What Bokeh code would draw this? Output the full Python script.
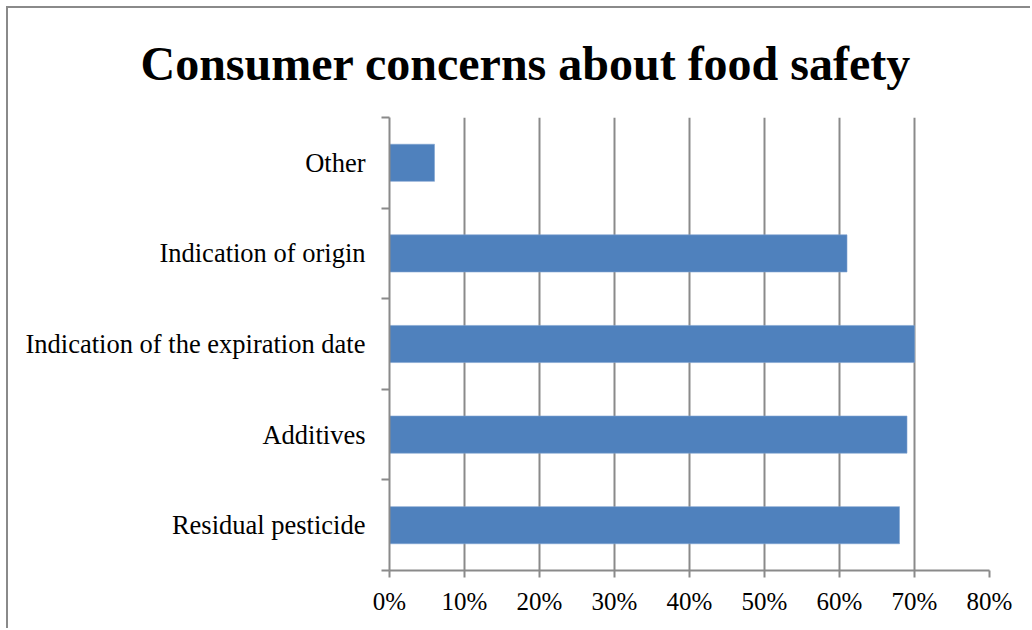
import numpy as np
from bokeh.plotting import figure
from bokeh.models import FixedTicker, NumeralTickFormatter, Range1d
from bokeh.embed import file_html
from bokeh.resources import INLINE

title_text = "Consumer concerns about food safety"
categories = ["Residual pesticide", "Additives", "Indication of the expiration date",
              "Indication of origin", "Other"]
values = [0.68, 0.69, 0.70, 0.61, 0.06]
x_ticks = [0.0, 0.1, 0.2, 0.3, 0.4, 0.5, 0.6, 0.7, 0.8]

n = len(categories)
centers = list(np.arange(n) + 0.5)
bounds = list(np.arange(n + 1).astype(float))

GRAY = "#8a8a8a"
FONT = "Liberation Serif"

p = figure(width=1024, height=622, output_backend="svg", toolbar_location=None,
           x_range=Range1d(0, 0.8), y_range=Range1d(0, n),
           min_border_left=381, min_border_right=43, min_border_top=109, min_border_bottom=60)
p.margin = (6, 0, 0, 6)
p.styles = {"border-left": "2px solid " + GRAY, "border-top": "2px solid " + GRAY}
p.outline_line_color = None
p.background_fill_color = "white"
p.border_fill_color = "white"

p.hbar(y=centers, right=values, left=0, height=0.41, fill_color="#4F81BD",
       line_color="#7FA3D0", line_width=0.6)

# title
p.title.text = title_text
p.title.align = "left"
p.title.vertical_align = "top"
p.title.offset = -249
p.title.text_font = FONT
p.title.text_font_size = "48px"
p.title.text_font_style = "bold"
p.title.text_color = "black"
p.title.standoff = 52

# x axis
xa = p.xaxis[0]
xa.ticker = FixedTicker(ticks=x_ticks, minor_ticks=[])
xa.formatter = NumeralTickFormatter(format="0%")
xa.axis_line_color = GRAY
xa.axis_line_width = 2
xa.major_tick_line_color = GRAY
xa.major_tick_line_width = 2
xa.major_tick_in = 0
xa.major_tick_out = 7
xa.minor_tick_line_color = None
xa.major_label_text_font = FONT
xa.major_label_text_font_size = "25px"
xa.major_label_text_color = "black"
xa.major_label_standoff = 10

# y axis: labels at centers, tick marks at boundaries
ya = p.yaxis[0]
ya.ticker = FixedTicker(ticks=centers, minor_ticks=bounds)
ya.major_label_overrides = {c: lab for c, lab in zip(centers, categories)}
ya.axis_line_color = GRAY
ya.axis_line_width = 2
ya.major_tick_line_color = None
ya.major_tick_in = 0
ya.major_tick_out = 0
ya.minor_tick_line_color = GRAY
ya.minor_tick_line_width = 2
ya.minor_tick_in = 0
ya.minor_tick_out = 8
ya.major_label_text_font = FONT
ya.major_label_text_font_size = "26.5px"
ya.major_label_text_color = "black"
ya.major_label_standoff = 16

p.xgrid.ticker = FixedTicker(ticks=x_ticks)
p.xgrid.grid_line_color = GRAY
p.xgrid.grid_line_width = 2
p.ygrid.grid_line_color = None

open("out.html", "w").write(file_html(p, INLINE))
